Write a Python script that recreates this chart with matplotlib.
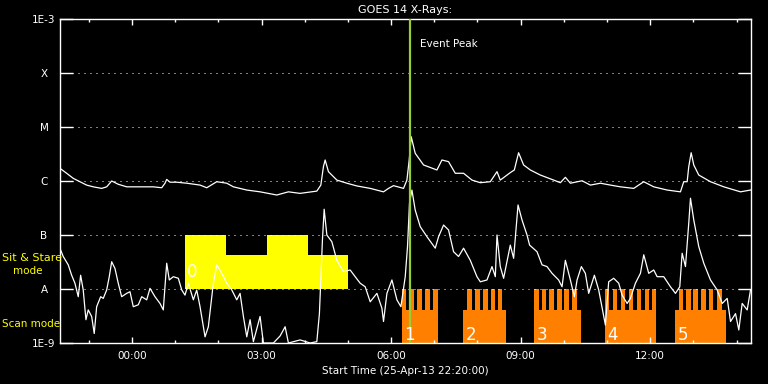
import numpy as np
import matplotlib
matplotlib.use("Agg")
import matplotlib.pyplot as plt
from matplotlib.ticker import FixedLocator, NullLocator

# hours relative to 26-Apr-13 00:00 (plot starts 25-Apr-13 22:20)
long_t = [-1.669, -1.513, -1.360, -1.205, -1.050, -0.897, -0.702, -0.586, -0.470, -0.318,
          -0.123, 0.262, 0.494, 0.688, 0.765, 0.804, 0.881, 1.036, 1.268, 1.576,
          1.731, 1.963, 2.195, 2.348, 2.658, 2.966, 3.353, 3.622, 3.893, 4.280,
          4.373, 4.433, 4.473, 4.549, 4.744, 4.976, 5.207, 5.516, 5.824, 5.940,
          6.056, 6.287, 6.366, 6.419, 6.466, 6.558, 6.751, 7.061, 7.177, 7.330,
          7.486, 7.678, 7.873, 8.065, 8.297, 8.452, 8.528, 8.760, 8.853, 8.952,
          9.068, 9.224, 9.455, 9.764, 9.919, 10.035, 10.151, 10.422, 10.614, 10.846,
          11.078, 11.309, 11.618, 11.850, 12.081, 12.392, 12.700, 12.776, 12.855, 12.892,
          12.948, 13.008, 13.124, 13.395, 13.703, 14.090, 14.322]
long_flux = [1.72e-6, 1.39e-6, 1.12e-6, 9.7e-7, 8.4e-7, 7.8e-7, 7.3e-7, 7.8e-7, 1.0e-6, 8.7e-7,
             7.8e-7, 7.8e-7, 7.8e-7, 7.5e-7, 9.1e-7, 1.07e-6, 9.5e-7, 9.5e-7, 9.1e-7, 8.4e-7,
             7.5e-7, 9.7e-7, 9.1e-7, 7.8e-7, 6.8e-7, 6.3e-7, 5.5e-7, 6.3e-7, 5.9e-7, 6.5e-7,
             8.4e-7, 1.84e-6, 2.45e-6, 1.49e-6, 1.04e-6, 9.1e-7, 8.1e-7, 7.3e-7, 6.3e-7, 7.3e-7,
             8.2e-7, 7.3e-7, 1.04e-6, 2.45e-6, 6.6e-6, 3.26e-6, 1.98e-6, 1.6e-6, 2.45e-6, 2.28e-6,
             1.39e-6, 1.39e-6, 1.04e-6, 9.3e-7, 9.7e-7, 1.49e-6, 1.04e-6, 1.43e-6, 1.6e-6, 3.34e-6,
             1.98e-6, 1.6e-6, 1.29e-6, 1.04e-6, 9.3e-7, 1.17e-6, 9.1e-7, 1.01e-6, 8.4e-7, 9.1e-7,
             8.4e-7, 7.8e-7, 7.3e-7, 9.7e-7, 7.8e-7, 6.8e-7, 6.3e-7, 9.7e-7, 9.7e-7, 1.84e-6,
             3.34e-6, 1.98e-6, 1.29e-6, 9.7e-7, 7.8e-7, 6.3e-7, 6.8e-7]

short_t = [-1.669, -1.592, -1.476, -1.397, -1.321, -1.244, -1.189, -1.129, -1.066, -1.013,
           -0.934, -0.874, -0.818, -0.725, -0.665, -0.586, -0.526, -0.470, -0.394, -0.318,
           -0.239, -0.123, -0.046, 0.030, 0.146, 0.225, 0.341, 0.417, 0.533, 0.649,
           0.725, 0.804, 0.864, 0.957, 1.073, 1.152, 1.228, 1.305, 1.421, 1.499,
           1.576, 1.692, 1.768, 1.884, 1.963, 2.079, 2.195, 2.311, 2.426, 2.503,
           2.580, 2.658, 2.735, 2.811, 2.966, 3.043, 3.274, 3.430, 3.546, 3.622,
           3.893, 4.125, 4.280, 4.340, 4.373, 4.410, 4.450, 4.512, 4.628, 4.744,
           4.897, 5.052, 5.168, 5.284, 5.400, 5.516, 5.671, 5.787, 5.824, 5.903,
           6.019, 6.134, 6.227, 6.327, 6.380, 6.426, 6.482, 6.558, 6.674, 6.830,
           7.022, 7.099, 7.215, 7.330, 7.446, 7.562, 7.678, 7.833, 7.988, 8.065,
           8.220, 8.336, 8.413, 8.452, 8.528, 8.605, 8.760, 8.837, 8.939, 9.031,
           9.147, 9.207, 9.379, 9.495, 9.610, 9.727, 9.879, 9.958, 10.035, 10.151,
           10.243, 10.306, 10.405, 10.498, 10.575, 10.707, 10.807, 10.962, 11.038, 11.154,
           11.270, 11.349, 11.465, 11.541, 11.657, 11.773, 11.850, 11.965, 12.081, 12.160,
           12.313, 12.468, 12.584, 12.684, 12.739, 12.816, 12.892, 12.932, 13.008, 13.124,
           13.240, 13.395, 13.550, 13.666, 13.782, 13.859, 13.975, 14.051, 14.129, 14.245,
           14.322]
short_flux = [5.7e-8, 4.0e-8, 2.8e-8, 1.8e-8, 1.28e-8, 7.2e-9, 1.8e-8, 9.6e-9, 2.7e-9, 4.1e-9,
              3.1e-9, 1.5e-9, 4.7e-9, 7.2e-9, 6.7e-9, 9.6e-9, 1.69e-8, 3.2e-8, 2.4e-8, 1.28e-8,
              7.2e-9, 8.3e-9, 8.9e-9, 4.7e-9, 5.1e-9, 7.2e-9, 6.3e-9, 1.03e-8, 7.2e-9, 5.4e-9,
              4.1e-9, 3.0e-8, 1.47e-8, 1.69e-8, 1.58e-8, 9.6e-9, 7.7e-9, 1.28e-8, 6.3e-9, 9.6e-9,
              4.7e-9, 1.3e-9, 2.0e-9, 1.28e-8, 2.8e-8, 1.95e-8, 1.28e-8, 9.6e-9, 6.3e-9, 8.3e-9,
              3.1e-9, 1.3e-9, 2.7e-9, 1.06e-9, 3.1e-9, 1.0e-9, 1.0e-9, 1.35e-9, 2.0e-9, 1.0e-9,
              1.14e-9, 1.0e-9, 1.06e-9, 3.5e-9, 1.58e-8, 8.1e-8, 3.0e-7, 1.0e-7, 7.5e-8, 3.4e-8,
              2.1e-8, 2.25e-8, 1.69e-8, 1.28e-8, 1.1e-8, 5.8e-9, 8.3e-9, 4.4e-9, 2.5e-9, 8.3e-9,
              1.47e-8, 6.3e-9, 4.7e-9, 1.69e-8, 6.1e-8, 3.9e-7, 6.8e-7, 2.9e-7, 1.43e-7, 9.3e-8,
              5.7e-8, 9.3e-8, 1.53e-7, 1.24e-7, 4.9e-8, 4.0e-8, 5.7e-8, 3.4e-8, 1.69e-8, 1.36e-8,
              1.47e-8, 2.6e-8, 1.69e-8, 1.0e-7, 2.6e-8, 1.58e-8, 6.5e-8, 3.7e-8, 3.6e-7, 1.9e-7,
              1.0e-7, 6.5e-8, 4.9e-8, 2.8e-8, 2.6e-8, 1.95e-8, 1.47e-8, 1.1e-8, 3.4e-8, 1.47e-8,
              7.2e-9, 1.47e-8, 2.6e-8, 1.95e-8, 8.3e-9, 1.8e-8, 9.6e-9, 2.15e-9, 1.36e-8, 1.58e-8,
              1.28e-8, 7.7e-9, 5.4e-9, 6.7e-9, 1.28e-8, 1.95e-8, 4.3e-8, 1.95e-8, 2.25e-8, 1.69e-8,
              1.69e-8, 1.1e-8, 8.3e-9, 1.1e-8, 4.6e-8, 2.6e-8, 1.65e-7, 4.8e-7, 1.9e-7, 6.1e-8,
              3.0e-8, 1.47e-8, 9.6e-9, 5.4e-9, 6.7e-9, 2.5e-9, 3.5e-9, 1.74e-9, 5.4e-9, 4.1e-9,
              9.6e-9]

# sit & stare pointing (yellow), block 0
stare_start = [1.23, 2.18, 3.13, 4.08]
stare_end = [2.18, 3.13, 4.08, 5.01]
stare_top = [1e-7, 4.3e-8, 1e-7, 4.3e-8]
stare_floor = 1e-8

# raster scans (orange), blocks 1-5
scan_start = [6.257, 7.671, 9.316, 10.962, 12.584]
scan_end = [7.091, 8.667, 10.406, 12.144, 13.766]
scan_steps = [
    [(6.257, 6.350), (6.419, 6.535), (6.605, 6.721), (6.790, 6.906), (6.976, 7.091)],
    [(7.764, 7.880), (7.949, 8.065), (8.134, 8.250), (8.320, 8.413), (8.482, 8.575)],
    [(9.316, 9.432), (9.502, 9.594), (9.664, 9.780), (9.849, 9.965), (10.012, 10.127),
     (10.197, 10.313)],
    [(10.962, 11.055), (11.148, 11.240), (11.333, 11.426), (11.518, 11.611),
     (11.704, 11.796), (11.889, 11.982), (12.051, 12.144)],
    [(12.677, 12.770), (12.839, 12.955), (13.001, 13.117), (13.186, 13.302),
     (13.372, 13.464), (13.557, 13.673)],
]
scan_floor = 1e-9
scan_base = 4.1e-9
scan_step_top = 1e-8

event_peak = 6.443

x_ticks = [0, 3, 6, 9, 12]
x_labels = ["00:00", "03:00", "06:00", "09:00", "12:00"]
x_minor = list(range(-1, 15))
y_ticks = [1e-9, 1e-8, 1e-7, 1e-6, 1e-5, 1e-4, 1e-3]
y_labels = ["1E-9", "A", "B", "C", "M", "X", "1E-3"]

YELLOW = "#ffff00"
ORANGE = "#ff8000"
GREEN = "#9acd32"

fig = plt.figure(figsize=(7.68, 3.84), dpi=100, facecolor="black")
ax = fig.add_axes([60 / 768, 1 - 343 / 384, 691 / 768, 324 / 384], facecolor="black")
ax.set_yscale("log")
ax.set_xlim(-5 / 3, 43 / 3)
ax.set_ylim(1e-9, 1e-3)

# sit & stare block
ax.bar(stare_start, np.array(stare_top) - stare_floor,
       width=np.array(stare_end) - np.array(stare_start),
       bottom=stare_floor, align="edge", color=YELLOW, linewidth=0, zorder=1)
ax.text(stare_start[0] + 0.05, 1.67e-8, "0", color="white", fontsize=12,
        va="baseline", ha="left", zorder=5)

# raster scan blocks
for i, (s, e, steps) in enumerate(zip(scan_start, scan_end, scan_steps)):
    ax.bar(s, scan_base - scan_floor, width=e - s, bottom=scan_floor,
           align="edge", color=ORANGE, linewidth=0, zorder=1)
    st = np.array(steps)
    ax.bar(st[:, 0], scan_step_top - scan_base, width=st[:, 1] - st[:, 0],
           bottom=scan_base, align="edge", color=ORANGE, linewidth=0, zorder=1)
    ax.text(s + 0.05, 1.14e-9, str(i + 1), color="white", fontsize=12,
            va="baseline", ha="left", zorder=5)

ax.plot(long_t, long_flux, color="white", lw=0.9, zorder=3)
ax.plot(short_t, short_flux, color="white", lw=0.9, zorder=3)

ax.axvline(event_peak, color=GREEN, lw=1.6, zorder=4)
ax.text(event_peak + 0.23, 3.0e-4, "Event Peak", color="white", fontsize=7.5,
        va="baseline", ha="left")

# axes styling
for s in ax.spines.values():
    s.set_color("white")
    s.set_linewidth(1.0)
ax.yaxis.set_major_locator(FixedLocator(y_ticks))
ax.yaxis.set_minor_locator(NullLocator())
ax.set_yticklabels(y_labels)
ax.xaxis.set_major_locator(FixedLocator(x_ticks))
ax.xaxis.set_minor_locator(FixedLocator(x_minor))
ax.set_xticklabels(x_labels)
ax.tick_params(axis="y", which="major", direction="in", length=9.5, width=1.0,
               colors="white", left=True, right=True, labelsize=7.5, pad=11.5)
for lab in ax.get_yticklabels():
    lab.set_horizontalalignment("center")
ax.tick_params(axis="x", which="major", direction="in", length=4.5, width=1.0,
               colors="white", top=True, bottom=True, labelsize=7.5, pad=6)
ax.tick_params(axis="x", which="minor", direction="in", length=2.5, width=1.0,
               colors="white", top=True, bottom=True)
ax.yaxis.grid(True, which="major", color="white", lw=0.72, ls=(0, (1, 5)))
ax.set_axisbelow(False)

ax.set_title("GOES 14 X-Rays:", color="white", fontsize=8, pad=4)
ax.set_xlabel("Start Time (25-Apr-13 22:20:00)", color="white", fontsize=7.5,
              labelpad=3)

fig.text(2 / 768, 1 - 258 / 384, "Sit & Stare", color=YELLOW, fontsize=8,
         va="center", ha="left")
fig.text(13 / 768, 1 - 271 / 384, "mode", color=YELLOW, fontsize=7.5,
         va="center", ha="left")
fig.text(2 / 768, 1 - 324 / 384, "Scan mode", color=YELLOW, fontsize=7.5,
         va="center", ha="left")

fig.savefig("out.png", dpi=100, facecolor="black")
